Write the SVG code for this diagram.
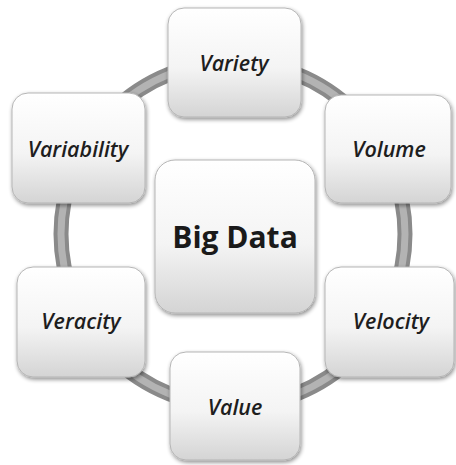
<svg xmlns="http://www.w3.org/2000/svg" width="456" height="465" viewBox="0 0 456 465">
<style>
.lbl{font-family:"Open Sans","Liberation Sans",sans-serif;font-style:italic;font-weight:600;font-size:21.5px;fill:#1e1e1e;text-anchor:middle;dominant-baseline:central}
.big{font-family:"Open Sans","Liberation Sans",sans-serif;font-weight:700;font-size:30px;fill:#1a1a1a;text-anchor:middle;dominant-baseline:central}
.box{fill:url(#g);stroke:#b5b5b5;stroke-width:1;filter:url(#sh)}
</style>
<defs>
<linearGradient id="g" x1="0" y1="0" x2="0" y2="1">
<stop offset="0" stop-color="#ffffff"/>
<stop offset="0.55" stop-color="#f4f4f4"/>
<stop offset="1" stop-color="#d4d4d4"/>
</linearGradient>
<filter id="sh" x="-10%" y="-10%" width="125%" height="125%">
<feGaussianBlur in="SourceAlpha" stdDeviation="2"/>
<feOffset dx="1" dy="2" result="b"/>
<feComponentTransfer><feFuncA type="linear" slope="0.45"/></feComponentTransfer>
<feMerge><feMergeNode/><feMergeNode in="SourceGraphic"/></feMerge>
</filter>
</defs>
<g id="connectors">
<circle cx="233" cy="234" r="172" fill="none" stroke="#8a8a8a" stroke-width="15"/>
<circle cx="233" cy="234" r="172" fill="none" stroke="#b3b3b3" stroke-width="7"/>
</g>
<g id="variety"><rect class="box" x="168" y="8" width="133" height="109" rx="16"/><text class="lbl" x="234" y="62">Variety</text></g>
<g id="variability"><rect class="box" x="12" y="93" width="133" height="110" rx="16"/><text class="lbl" x="78" y="148">Variability</text></g>
<g id="volume"><rect class="box" x="325" y="95" width="126" height="108" rx="16"/><text class="lbl" x="389" y="148">Volume</text></g>
<g id="bigdata"><rect class="box" x="155" y="160" width="160" height="153" rx="20"/><text class="big" x="235" y="236">Big Data</text></g>
<g id="veracity"><rect class="box" x="17" y="267" width="128" height="110" rx="16"/><text class="lbl" x="81" y="320">Veracity</text></g>
<g id="velocity"><rect class="box" x="325" y="267" width="129" height="110" rx="16"/><text class="lbl" x="391" y="320">Velocity</text></g>
<g id="value"><rect class="box" x="170" y="352" width="130" height="108" rx="16"/><text class="lbl" x="235" y="406">Value</text></g>
</svg>
